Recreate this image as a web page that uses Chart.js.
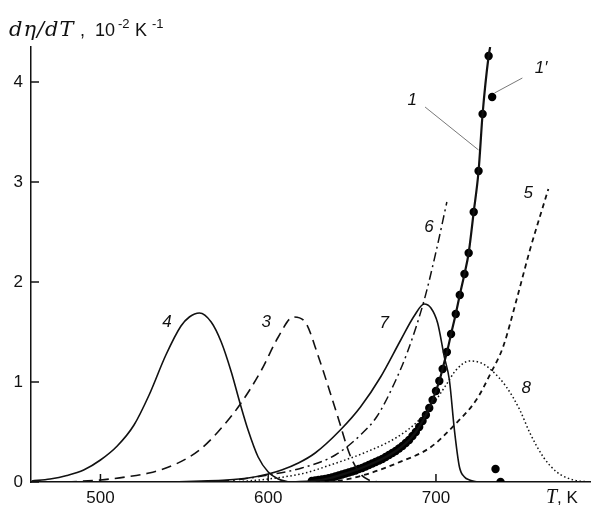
<!DOCTYPE html>
<html>
<head>
<meta charset="utf-8">
<script src="https://cdn.jsdelivr.net/npm/chart.js@4"></script>
<style>
  html, body { margin: 0; padding: 0; background: #fff; }
  #wrap { width: 595px; height: 510px; }
</style>
</head>
<body>
<div id="wrap"><canvas id="chart" width="595" height="510"></canvas></div>
<script>
// temperatures (K) and dη/dT values (10^-2 K^-1)
const c1T = [615, 626, 637, 647, 657, 669, 677, 684, 688, 691, 694, 697, 700, 702.5, 705, 707, 709, 711.8, 714.2, 717, 719.5, 722.5, 725.4, 727.8, 731.4, 732.3];
const c1V = [0, 0.01, 0.04, 0.09, 0.15, 0.24, 0.32, 0.42, 0.50, 0.58, 0.67, 0.78, 0.91, 1.04, 1.2, 1.33, 1.48, 1.68, 1.87, 2.08, 2.29, 2.70, 3.11, 3.68, 4.26, 4.35];

const dotsT = [626, 628, 630, 632, 634, 636, 638, 640, 642, 644, 646, 648, 650, 652, 654, 656, 658, 660, 662, 664, 666, 668, 670, 672, 674, 676, 678, 680, 682, 684, 686, 688, 690,
  692, 694, 696, 698, 700, 702, 704, 706.5, 709, 711.8, 714.2, 717, 719.5, 722.5, 725.4, 727.8, 731.4, 733.5, 735.5, 738.5];
const dotsV = [0.01, 0.015, 0.02, 0.025, 0.03, 0.037, 0.045, 0.055, 0.065, 0.075, 0.085, 0.095, 0.105, 0.115, 0.13, 0.14, 0.155, 0.17, 0.185, 0.20, 0.215, 0.23, 0.25, 0.27, 0.29, 0.31, 0.335, 0.36, 0.39, 0.42, 0.46, 0.50, 0.55,
  0.61, 0.67, 0.74, 0.82, 0.91, 1.01, 1.13, 1.30, 1.48, 1.68, 1.87, 2.08, 2.29, 2.70, 3.11, 3.68, 4.26, 3.85, 0.13, 0];

const c3T = [480, 500, 515, 529, 545, 559, 570, 583, 596, 606, 615, 622, 630, 637, 643, 647, 650, 655, 660, 666];
const c3V = [0, 0.02, 0.05, 0.09, 0.18, 0.32, 0.5, 0.77, 1.12, 1.45, 1.65, 1.6, 1.25, 0.89, 0.57, 0.35, 0.22, 0.08, 0.02, 0];

const c4T = [459, 470, 480, 490, 500, 510, 520, 529, 539, 548, 553, 559, 566, 572, 578, 583, 588, 594, 600, 606, 612];
const c4V = [0.01, 0.03, 0.065, 0.12, 0.22, 0.36, 0.57, 0.87, 1.27, 1.56, 1.65, 1.69, 1.60, 1.40, 1.10, 0.80, 0.52, 0.25, 0.10, 0.03, 0];

const c5T = [620, 640, 657, 677, 697, 711, 724, 733, 740, 748, 756, 767];
const c5V = [0, 0.01, 0.07, 0.19, 0.35, 0.57, 0.82, 1.1, 1.35, 1.82, 2.32, 2.93];

const c6T = [560, 580, 600, 620, 640, 655, 665, 675, 683, 693, 700, 706.5];
const c6V = [0, 0.02, 0.07, 0.14, 0.27, 0.47, 0.66, 0.98, 1.3, 1.82, 2.3, 2.8];

const c7T = [540, 560, 575, 588, 600, 608, 618, 628, 643, 655, 667, 679, 687, 693, 697, 701, 705, 708, 711, 714, 717, 720, 725];
const c7V = [0, 0.01, 0.02, 0.04, 0.08, 0.12, 0.19, 0.29, 0.52, 0.75, 1.05, 1.42, 1.66, 1.78, 1.74, 1.59, 1.25, 1.02, 0.52, 0.15, 0.05, 0.02, 0];

const c8T = [580, 600, 622, 637, 657, 677, 690, 700, 706, 712, 720, 727, 733, 742, 750, 756, 764, 772, 782, 792];
const c8V = [0, 0.03, 0.09, 0.17, 0.29, 0.45, 0.62, 0.82, 0.97, 1.12, 1.21, 1.19, 1.12, 0.95, 0.72, 0.49, 0.25, 0.10, 0.02, 0];

const xTicks = [500, 600, 700];
const yTicks = [0, 1, 2, 3, 4];

// curve numbers: text, T, value
const curveLabels = [
  ['1', 685.8, 3.82], ['1\u2032', 762.7, 4.14], ['3', 598.8, 1.6], ['4', 539.6, 1.6],
  ['5', 755, 2.89], ['6', 695.9, 2.55], ['7', 669.2, 1.59], ['8', 753.8, 0.94]
];
// thin pointer lines: T1, v1, T2, v2
const leaders = [
  [693.5, 3.75, 725.4, 3.32],
  [751.5, 4.04, 734.9, 3.89]
];

function pts(ts, vs) {
  return ts.map((t, i) => ({ x: t, y: vs[i] }));
}

function line(ts, vs, width, dash) {
  return {
    data: pts(ts, vs),
    borderColor: '#111',
    borderWidth: width,
    borderDash: dash,
    pointRadius: 0,
    showLine: true,
    fill: false,
    cubicInterpolationMode: 'monotone'
  };
}

const decor = {
  id: 'decor',
  afterDraw(chart) {
    const ctx = chart.ctx;
    const xs = chart.scales.x, ys = chart.scales.y;
    const area = chart.chartArea;
    ctx.save();
    ctx.strokeStyle = '#111';
    ctx.lineWidth = 1.5;
    // inward tick marks
    yTicks.forEach(v => {
      const y = ys.getPixelForValue(v);
      ctx.beginPath(); ctx.moveTo(area.left, y); ctx.lineTo(area.left + 8, y); ctx.stroke();
    });
    xTicks.forEach(v => {
      const x = xs.getPixelForValue(v);
      ctx.beginPath(); ctx.moveTo(x, area.bottom); ctx.lineTo(x, area.bottom - 8); ctx.stroke();
    });

    // leader lines
    ctx.lineWidth = 0.8;
    ctx.strokeStyle = '#555';
    leaders.forEach(l => {
      ctx.beginPath();
      ctx.moveTo(xs.getPixelForValue(l[0]), ys.getPixelForValue(l[1]));
      ctx.lineTo(xs.getPixelForValue(l[2]), ys.getPixelForValue(l[3]));
      ctx.stroke();
    });

    // curve numbers
    ctx.fillStyle = '#111';
    ctx.font = 'italic 17px "Liberation Sans", Arial, sans-serif';
    ctx.textAlign = 'center';
    ctx.textBaseline = 'middle';
    curveLabels.forEach(l => {
      ctx.fillText(l[0], xs.getPixelForValue(l[1]), ys.getPixelForValue(l[2]));
    });

    // y axis title
    ctx.textAlign = 'left';
    ctx.textBaseline = 'alphabetic';
    const base = 36;
    ctx.font = 'italic 21px "DejaVu Serif", serif';
    ctx.letterSpacing = '1px';
    ctx.fillText('d\u03B7/dT', 9, base);
    ctx.letterSpacing = '0px';
    ctx.font = '18px "Liberation Sans", Arial, sans-serif';
    ctx.fillText(',', 80, base);
    ctx.fillText('10', 95, base);
    ctx.fillText('K', 135, base);
    ctx.font = '13px "Liberation Sans", Arial, sans-serif';
    ctx.fillText('-2', 118, base - 8);
    ctx.fillText('-1', 152, base - 8);

    // x axis title
    const bx = 546, by = 503;
    ctx.font = 'italic 20px "Liberation Serif", "DejaVu Serif", serif';
    ctx.fillText('T', bx, by);
    const w = ctx.measureText('T').width;
    ctx.font = '17px "Liberation Sans", Arial, sans-serif';
    ctx.fillText(', K', bx + w, by);
    ctx.restore();
  }
};

new Chart(document.getElementById('chart'), {
  type: 'scatter',
  data: {
    datasets: [
      line(c4T, c4V, 1.6, []),
      line(c3T, c3V, 1.6, [10, 6]),
      line(c7T, c7V, 1.6, []),
      line(c6T, c6V, 1.5, [9, 4, 2, 4]),
      line(c8T, c8V, 1.5, [1.5, 2.5]),
      line(c5T, c5V, 1.8, [5, 4]),
      line(c1T, c1V, 2.2, []),
      {
        data: pts(dotsT, dotsV),
        backgroundColor: '#000',
        borderColor: '#000',
        pointRadius: 4.2,
        borderWidth: 0,
        showLine: false
      }
    ]
  },
  options: {
    responsive: false,
    animation: false,
    layout: { padding: { left: 0, right: 0, top: 47, bottom: 0 } },
    plugins: { legend: { display: false }, tooltip: { enabled: false } },
    scales: {
      x: {
        type: 'linear',
        min: 458.6,
        max: 792.3,
        afterFit: s => { s.height = 28; },
        afterBuildTicks: s => { s.ticks = xTicks.map(v => ({ value: v })); },
        grid: { display: false, drawTicks: false },
        border: { display: true, color: '#111', width: 1.5 },
        ticks: {
          padding: 6,
          color: '#111',
          font: { family: '"Liberation Sans", Arial, sans-serif', size: 17 },
          maxRotation: 0
        }
      },
      y: {
        type: 'linear',
        min: 0,
        max: 4.35,
        afterFit: s => { s.width = 31; },
        afterBuildTicks: s => { s.ticks = yTicks.map(v => ({ value: v })); },
        grid: { display: false, drawTicks: false },
        border: { display: true, color: '#111', width: 1.5 },
        ticks: {
          padding: 8,
          color: '#111',
          font: { family: '"Liberation Sans", Arial, sans-serif', size: 17 }
        }
      }
    }
  },
  plugins: [decor]
});
</script>
</body>
</html>
